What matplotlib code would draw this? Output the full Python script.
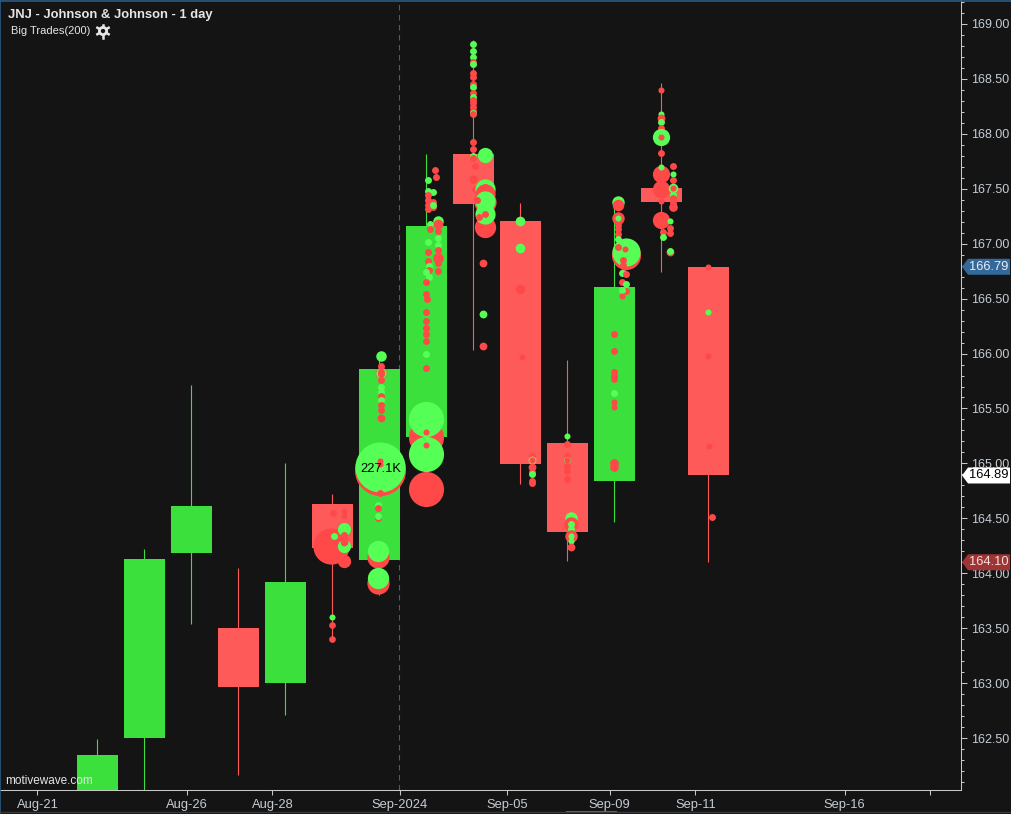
import numpy as np
import matplotlib
matplotlib.use('Agg')
import matplotlib.pyplot as plt
from matplotlib.lines import Line2D
from matplotlib.patches import Polygon, Rectangle, Circle
from matplotlib.transforms import blended_transform_factory, IdentityTransform

plt.rcParams['font.family'] = ['Liberation Sans', 'DejaVu Sans']

# daily candles, first two lows/opens run off the bottom of the chart
opens = [161.90, 162.50, 164.18, 163.50, 163.00, 164.63, 164.12, 165.24, 167.82, 167.21, 165.19, 164.84, 167.51, 166.79]
highs = [162.49, 164.22, 165.71, 164.05, 165.00, 164.72, 165.98, 167.82, 168.85, 167.37, 165.94, 167.40, 168.46, 166.79]
lows = [161.90, 161.90, 163.54, 162.16, 162.71, 163.37, 163.80, 165.24, 166.03, 164.81, 164.11, 164.47, 166.74, 164.10]
closes = [162.35, 164.13, 164.61, 162.96, 163.92, 164.23, 165.86, 167.16, 167.36, 164.99, 164.38, 166.61, 167.38, 164.89]

# big trades per bar: (offset from bar centre, price, volume in K, side)
trades_5 = [(-.02, 164.25, 118, 'r'), (.25, 164.11, 15, 'r'), (.03, 164.55, 3.3, 'r'),
            (.25, 164.57, 2.3, 'r'), (.25, 164.52, 2.3, 'r'), (.05, 164.34, 3.3, 'g'),
            (.25, 164.40, 18, 'r'), (.25, 164.40, 15, 'g'), (.25, 164.25, 15, 'g'),
            (.25, 164.28, 4.5, 'r'), (.25, 164.35, 3.3, 'r'),
            (0, 163.60, 2.3, 'g'), (0, 163.53, 3.0, 'r'), (0, 163.40, 3.0, 'r')]
trades_6 = [(.05, 165.98, 9, 'g'), (.05, 165.82, 11, 'r'), (.05, 165.82, 9, 'g'),
            (.05, 165.89, 3.3, 'r'), (.05, 165.83, 3.3, 'r'), (.05, 165.81, 3.3, 'r'),
            (.05, 165.76, 3.3, 'r'), (.05, 165.70, 3.3, 'g'), (.05, 165.65, 3.3, 'g'),
            (.05, 165.61, 3.3, 'r'), (.05, 165.58, 3.3, 'g'), (.05, 165.53, 3.3, 'r'),
            (.05, 165.49, 3.3, 'r'), (.05, 165.41, 4.5, 'r'),
            (.03, 164.94, 236, 'r'), (.03, 164.97, 227.1, 'g'),
            (.03, 165.02, 2.3, 'r'), (.03, 164.99, 2.3, 'r'), (.03, 164.73, 3.3, 'r'),
            (-.02, 164.62, 3.3, 'g'), (-.02, 164.59, 3.3, 'r'), (-.02, 164.50, 3.3, 'r'),
            (-.02, 164.52, 3.3, 'g'), (-.02, 164.15, 44, 'r'), (-.02, 164.20, 40, 'g'),
            (-.02, 163.91, 44, 'r'), (-.02, 163.96, 40, 'g')]
trades_7 = [(0, 165.24, 111, 'r'), (0, 165.40, 111, 'g'), (0, 165.09, 111, 'g'),
            (0, 164.77, 111, 'r'), (0, 165.29, 2.3, 'r'), (0, 165.17, 2.3, 'r'),
            (.19, 167.67, 3.3, 'r'), (.21, 167.61, 3.3, 'r'), (.04, 167.58, 3.3, 'g'),
            (.04, 167.48, 3.3, 'g'), (.15, 167.47, 3.3, 'g'), (.04, 167.44, 3.3, 'r'),
            (.04, 167.40, 3.3, 'r'), (.04, 167.35, 3.3, 'r'), (.04, 167.32, 3.3, 'r'),
            (.15, 167.38, 3.3, 'r'), (.15, 167.33, 3.3, 'r'), (.15, 167.35, 3.3, 'g'),
            (.25, 167.21, 9, 'g'), (.25, 167.18, 7.4, 'r'), (.08, 167.18, 3.3, 'g'),
            (.08, 167.13, 3.3, 'r'), (.25, 167.12, 3.3, 'r'), (.25, 167.05, 3.3, 'g'),
            (.04, 167.02, 3.3, 'g'), (.25, 166.99, 3.3, 'g'), (.25, 166.94, 3.3, 'r'),
            (.04, 166.92, 3.3, 'r'), (.25, 166.87, 9, 'r'), (.04, 166.84, 3.3, 'r'),
            (.25, 166.82, 3.3, 'r'), (.06, 166.80, 3.3, 'g'), (.06, 166.76, 3.3, 'r'),
            (.25, 166.75, 3.3, 'r'), (0, 166.74, 3.3, 'g'), (.06, 166.70, 3.3, 'g'),
            (0, 166.65, 3.3, 'r'), (0, 166.54, 3.3, 'r'), (.02, 166.50, 3.3, 'r'),
            (0, 166.38, 3.3, 'r'), (0, 166.30, 3.3, 'r'), (0, 166.23, 3.3, 'r'),
            (0, 166.18, 3.3, 'r'), (0, 166.11, 3.3, 'r'), (0, 166.00, 3.3, 'g'),
            (0, 165.87, 3.3, 'r')]
trades_8 = [(0, 168.82, 3.3, 'g'), (0, 168.75, 3.3, 'g'), (0, 168.70, 3.3, 'g'),
            (0, 168.65, 3.3, 'r'), (0, 168.64, 3.3, 'g'), (0, 168.55, 3.3, 'r'),
            (0, 168.52, 3.3, 'r'), (0, 168.45, 3.3, 'r'), (0, 168.43, 3.3, 'g'),
            (0, 168.37, 3.3, 'r'), (0, 168.34, 3.3, 'g'), (0, 168.31, 3.3, 'r'),
            (0, 168.28, 3.3, 'r'), (0, 168.24, 3.3, 'r'), (0, 168.21, 3.3, 'r'),
            (0, 168.19, 3.3, 'g'), (0, 168.18, 3.3, 'r'), (0, 167.93, 3.3, 'r'),
            (0, 167.86, 3.3, 'r'), (0, 167.80, 3.3, 'g'), (0, 167.78, 3.3, 'r'),
            (.04, 167.71, 3.3, 'r'), (0, 167.59, 5.8, 'r'), (.04, 167.50, 3.3, 'r'),
            (.25, 167.81, 20, 'g'), (.25, 167.15, 40, 'r'), (.25, 167.50, 36, 'g'),
            (.25, 167.45, 36, 'r'), (.25, 167.38, 44, 'r'), (.25, 167.39, 36, 'g'),
            (.25, 167.27, 36, 'g'), (.25, 167.52, 3.3, 'r'), (.25, 167.27, 3.3, 'r'),
            (.13, 167.24, 3.3, 'r'), (.09, 167.40, 3.3, 'r'),
            (.21, 166.82, 4.5, 'r'), (.21, 166.36, 4.5, 'g'), (.21, 166.07, 4.5, 'r')]
trades_9 = [(0, 167.21, 7.4, 'g'), (0, 166.96, 7.4, 'g'), (0, 166.59, 7.4, 'r'),
            (.04, 165.97, 2.3, 'r'), (.25, 165.07, 3.3, 'r'), (.25, 165.03, 4.5, 'g'),
            (.25, 165.03, 2.3, 'r'), (.25, 164.97, 4.5, 'r'), (.25, 164.92, 3.3, 'r'),
            (.25, 164.90, 3.3, 'g'), (.25, 164.84, 3.3, 'r'), (.25, 164.82, 3.3, 'r')]
trades_10 = [(0, 165.25, 2.3, 'g'), (0, 165.18, 3.3, 'r'), (0, 165.07, 3.3, 'r'),
             (0, 165.03, 3.3, 'g'), (0, 165.03, 2.3, 'r'), (0, 164.98, 3.3, 'r'),
             (0, 164.93, 3.3, 'r'), (0, 164.86, 3.3, 'r'),
             (.08, 164.50, 13, 'g'), (.08, 164.45, 18, 'r'), (.08, 164.45, 3.3, 'g'),
             (.08, 164.40, 3.3, 'g'), (.08, 164.34, 13, 'r'), (.08, 164.34, 2.3, 'g'),
             (.08, 164.29, 2.3, 'g'), (.08, 164.24, 4.5, 'r')]
trades_11 = [(.08, 167.38, 13, 'g'), (.08, 167.35, 11, 'r'), (.08, 167.23, 13, 'r'),
             (.08, 167.23, 2.3, 'g'), (.08, 167.17, 3.3, 'r'), (.08, 167.13, 3.3, 'r'),
             (.08, 167.09, 3.3, 'r'), (.08, 167.04, 3.3, 'g'),
             (.25, 166.90, 76, 'r'), (.25, 166.92, 71, 'g'), (.08, 166.97, 3.3, 'r'),
             (.23, 166.95, 2.3, 'r'), (.19, 166.85, 3.3, 'r'), (.2, 166.81, 3.3, 'r'),
             (.19, 166.74, 3.3, 'r'), (.17, 166.73, 3.3, 'g'), (.25, 166.72, 3.3, 'r'),
             (.17, 166.65, 3.3, 'r'), (.25, 166.63, 3.3, 'g'), (.25, 166.57, 3.3, 'r'),
             (.17, 166.58, 3.3, 'g'), (.17, 166.52, 2.3, 'r'),
             (0, 166.18, 3.3, 'r'), (0, 166.02, 3.3, 'r'), (0, 165.83, 3.3, 'r'),
             (0, 165.80, 3.3, 'r'), (0, 165.77, 3.3, 'r'), (0, 165.64, 3.3, 'g'),
             (0, 165.56, 2.3, 'r'), (0, 165.51, 2.3, 'r'), (0, 165.00, 5.8, 'r'),
             (0, 164.97, 5.8, 'r')]
trades_12 = [(0, 168.40, 2.3, 'r'), (0, 168.18, 2.3, 'g'), (0, 168.14, 4.5, 'r'),
             (0, 168.11, 3.3, 'g'), (0, 168.05, 3.3, 'r'), (0, 167.97, 26, 'g'),
             (0, 167.97, 2.3, 'r'), (0, 167.83, 3.3, 'r'), (0, 167.63, 26, 'r'),
             (0, 167.70, 2.3, 'g'), (0, 167.50, 26, 'r'), (0, 167.39, 2.3, 'r'),
             (0, 167.22, 26, 'r'), (.04, 167.11, 3.3, 'r'), (.04, 167.06, 3.3, 'g'),
             (.25, 167.71, 3.3, 'r'), (.25, 167.63, 2.3, 'g'), (.25, 167.58, 3.3, 'r'),
             (.25, 167.51, 7.4, 'g'), (.25, 167.51, 2.3, 'r'), (.25, 167.44, 3.3, 'g'),
             (.25, 167.42, 3.3, 'r'), (.25, 167.37, 3.3, 'r'), (.25, 167.33, 5.8, 'r'),
             (.19, 167.21, 2.3, 'g'), (.19, 167.14, 3.3, 'r'), (.19, 167.10, 3.3, 'r'),
             (.19, 166.92, 4.5, 'r'), (.19, 166.93, 3.3, 'g')]
trades_13 = [(0, 166.79, 2.3, 'r'), (0, 166.38, 2.3, 'g'), (0, 165.98, 2.3, 'r'),
             (.02, 165.16, 2.3, 'r'), (.09, 164.51, 3.3, 'r')]
trade_bars = {5: trades_5, 6: trades_6, 7: trades_7, 8: trades_8, 9: trades_9,
              10: trades_10, 11: trades_11, 12: trades_12, 13: trades_13}

# dates sit between bars on this chart, so ticks are fractional bar numbers
date_ticks = [-1.277, 1.894, 3.723, 6.426, 8.723, 10.894, 12.723, 15.894, 17.72]
date_labels = ['Aug-21', 'Aug-26', 'Aug-28', 'Sep-2024', 'Sep-05', 'Sep-09', 'Sep-11', 'Sep-16', '']
price_tags = [166.79, 164.89, 164.10]

bg = '#141414'
up = '#3CE03C'
down = '#FF5A5A'
trade_col = {'g': '#55FF55', 'r': '#FF4848'}
txt = '#C4CCD4'
W, H = 1012., 814.

fig = plt.figure(figsize=(10.12, 8.14), facecolor=bg)
ax = fig.add_axes([0, 1 - 790/H, 961/W, 790/H], facecolor=bg)

bars = np.arange(len(opens))
opens, highs, lows, closes = map(np.array, (opens, highs, lows, closes))
cols = [up if c >= o else down for o, c in zip(opens, closes)]
wicks = ax.vlines(bars - 0.01, lows, highs, colors=cols, lw=0.8, zorder=2)
wicks.set_snap(True)
ax.bar(bars, np.abs(closes - opens), bottom=np.minimum(opens, closes), width=41/47.,
       color=cols, linewidth=0, zorder=2)

ax.axvline(date_ticks[3] - 0.01, color='#5A5A5A', lw=0.8, ls=(0, (5, 4)), zorder=1)

# bubble area goes with volume, small ones get a floor so they still read
k = 1296 / 227.1
for bar, trades in trade_bars.items():
    for off, price, vol, side in trades:
        ax.scatter(bar + off - 0.015, price, s=vol*k + 6, color=trade_col[side], linewidth=0, zorder=3)
ax.text(6.03, 164.95, '227.1K', color='black', fontsize=9.3, ha='center', va='center', zorder=4)

ax.set_xlim(-97.5/47, (961 - 97.5)/47)
ax.set_ylim(169 - (790 - 24)/109.85, 169 + 24/109.85)

ax.yaxis.tick_right()
ax.set_yticks(np.arange(162.5, 169.01, 0.5))
ax.set_yticklabels(['%.2f' % p for p in np.arange(162.5, 169.01, 0.5)])
ax.set_yticks(np.arange(162.1, 169.21, 0.1), minor=True)
ax.tick_params(axis='y', which='major', length=4.3, width=0.75, color='#C8C8C8',
               labelcolor=txt, labelsize=9, pad=3)
ax.tick_params(axis='y', which='minor', length=2.2, width=0.75, color='#C8C8C8')
ax.set_xticks(date_ticks)
ax.set_xticklabels(date_labels)
ax.tick_params(axis='x', length=3.6, width=0.75, color='#C8C8C8', labelcolor=txt,
               labelsize=9.3, pad=3)
for s in ['top', 'left']:
    ax.spines[s].set_visible(False)
for s in ['right', 'bottom']:
    ax.spines[s].set_color('#C8C8C8')
    ax.spines[s].set_linewidth(0.75)

# price tags on the right hand axis
tr = blended_transform_factory(ax.transAxes, ax.transData)
tag_cols = ['#35689A', 'white', '#A03434']
tag_txt = ['#E8EEF4', 'black', '#F0E0E0']
tip = 1 + 1/961.
box = 1 + 7/961.
end = 1 + 49/961.
hh = 8/109.85
for p, c, tc in zip(price_tags, tag_cols, tag_txt):
    ax.add_patch(Polygon([(tip, p), (box, p + hh), (end, p + hh), (end, p - hh), (box, p - hh)],
                         closed=True, transform=tr, color=c, lw=0, clip_on=False, zorder=5))
    ax.text(1 + 47.5/961., p, '%.2f' % p, transform=tr, color=tc, fontsize=9.3,
            ha='right', va='center', zorder=6, clip_on=False)

fig.text(8/W, 1 - 15/H, 'JNJ - Johnson & Johnson - 1 day', color='#E6E6E6', fontsize=9.35,
         fontweight='bold', va='center')
fig.text(11/W, 1 - 31/H, 'Big Trades(200)', color='#E6E6E6', fontsize=8, va='center')
fig.text(5/W, 1 - 781/H, 'motivewave.com', color='#E6E6E6', fontsize=8.5, va='center')

# settings gear next to the indicator name
gx, gy = 103, H - 31
fig.add_artist(Circle((gx, gy), 3.6, fill=False, ec='#E6E6E6', lw=2, transform=IdentityTransform()))
for a in np.arange(0, 2*np.pi, np.pi/3) + np.pi/6:
    fig.add_artist(Line2D([gx + 4*np.cos(a), gx + 6.5*np.cos(a)], [gy + 4*np.sin(a), gy + 6.5*np.sin(a)],
                          color='#E6E6E6', lw=1.8, transform=IdentityTransform()))

# window frame bits
fig.add_artist(Line2D([0, 1], [1 - 0.5/H]*2, color='#2A5A85', lw=1.2))
fig.add_artist(Line2D([0.5/W]*2, [0, 1], color='#2A5A85', lw=1.2))
fig.add_artist(Line2D([0, 1], [1 - 812/H]*2, color='#3A3A3A', lw=1))
fig.add_artist(Rectangle((566/W, 1 - 813/H), 51/W, 2/H, color='#6A6A6A', lw=0))

plt.savefig('out.png', dpi=100, facecolor=bg)
